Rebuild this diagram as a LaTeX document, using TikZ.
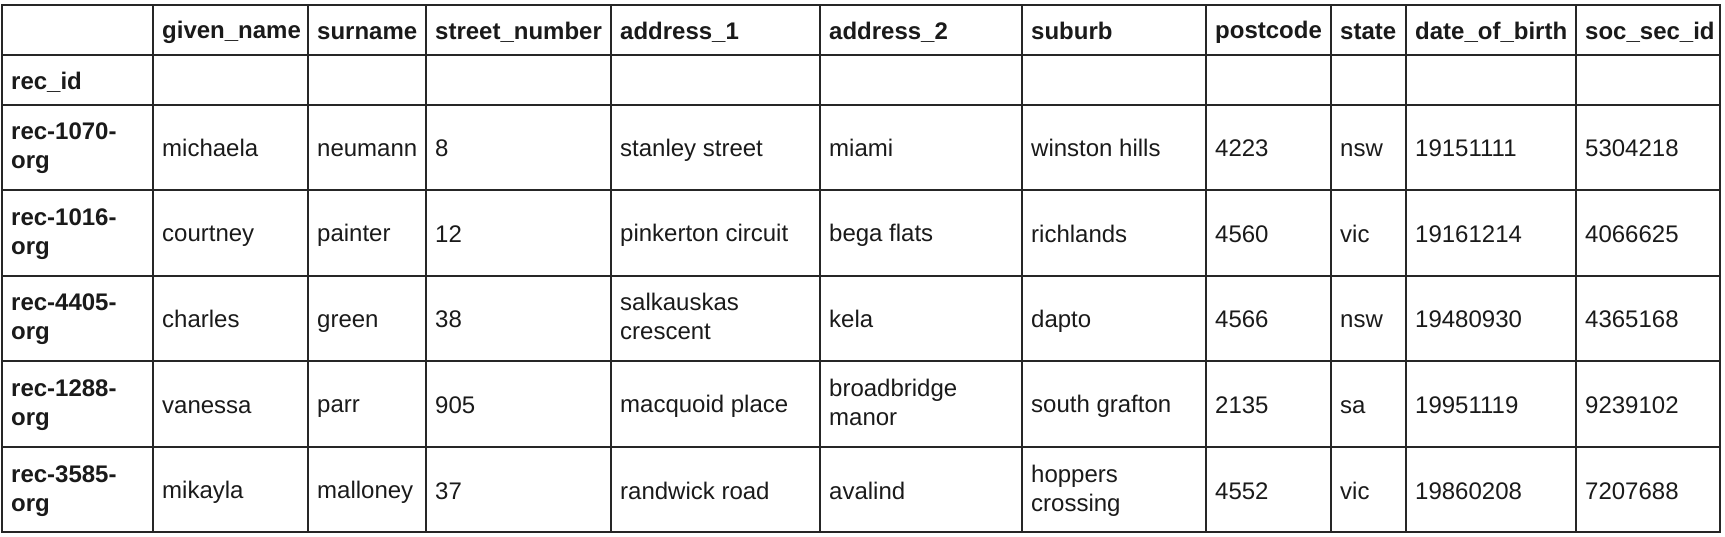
\documentclass[tikz,border=0pt]{standalone}
\usepackage{fontspec}
\setmainfont{Liberation Sans}
\newcommand\cstrut{\rule[-3pt]{0pt}{25pt}}
\newcommand\tstrut{\rule{0pt}{20pt}}
\newcommand\bstrut{\rule[-6pt]{0pt}{6pt}}
\definecolor{ink}{HTML}{1A1A1A}
\definecolor{rulecol}{HTML}{262626}
\def\colx{{2,153,308,426,611,820,1022,1206,1331,1406,1576,1720}}
\newcommand\datarow[3]{%
  \foreach \t [count=\i] in {#3} {%
    \pgfmathsetmacro\xx{\colx[\i]+9}%
    \node[cell] (c#1-\i) at (\xx,#2) {\t};}}
\begin{document}
\begin{tikzpicture}[x=1pt,y=-1pt,
  cell/.style={anchor=west,inner sep=0pt,align=left,text=ink,font=\fontsize{24}{29}\selectfont},
  headcell/.style={cell,font=\fontsize{24}{29}\selectfont\bfseries},
  gridline/.style={draw=rulecol,line width=2.2pt},
  frame/.style={draw=rulecol,line width=2.6pt}]
\useasboundingbox (0,0) rectangle (1725,537);
% grid
\foreach \x in {153,308,426,611,820,1022,1206,1331,1406,1576}
  \draw[gridline] (\x,5) -- (\x,532);
\foreach \y in {55,105,190,276,361,447}
  \draw[gridline] (2,\y) -- (1720,\y);
\draw[frame] (2,5) rectangle (1720,532);
% header
\foreach \t [count=\i] in {given\_name,surname,street\_number,address\_1,address\_2,suburb,postcode,state,date\_of\_birth,soc\_sec\_id} {%
  \pgfmathsetmacro\xx{\colx[\i]+9}%
  \node[headcell] (h\i) at (\xx,30) {\t\cstrut};}
% row labels
\node[headcell] (r0) at (11,80) {rec\_id\cstrut};
\node[headcell] (r1) at (11,147.5) {rec-1070-\tstrut\\org\bstrut};
\node[headcell] (r2) at (11,233) {rec-1016-\tstrut\\org\bstrut};
\node[headcell] (r3) at (11,318.5) {rec-4405-\tstrut\\org\bstrut};
\node[headcell] (r4) at (11,404) {rec-1288-\tstrut\\org\bstrut};
\node[headcell] (r5) at (11,489.5) {rec-3585-\tstrut\\org\bstrut};
% data
\datarow{1}{147.5}{michaela\cstrut,neumann\cstrut,8\cstrut,stanley street\cstrut,miami\cstrut,winston hills\cstrut,4223\cstrut,nsw\cstrut,19151111\cstrut,5304218\cstrut}
\datarow{2}{233}{courtney\cstrut,painter\cstrut,12\cstrut,pinkerton circuit\cstrut,bega flats\cstrut,richlands\cstrut,4560\cstrut,vic\cstrut,19161214\cstrut,4066625\cstrut}
\datarow{3}{318.5}{charles\cstrut,green\cstrut,38\cstrut,{salkauskas\tstrut\\crescent\bstrut},kela\cstrut,dapto\cstrut,4566\cstrut,nsw\cstrut,19480930\cstrut,4365168\cstrut}
\datarow{4}{404}{vanessa\cstrut,parr\cstrut,905\cstrut,macquoid place\cstrut,{broadbridge\tstrut\\manor\bstrut},south grafton\cstrut,2135\cstrut,sa\cstrut,19951119\cstrut,9239102\cstrut}
\datarow{5}{489.5}{mikayla\cstrut,malloney\cstrut,37\cstrut,randwick road\cstrut,avalind\cstrut,{hoppers\tstrut\\crossing\bstrut},4552\cstrut,vic\cstrut,19860208\cstrut,7207688\cstrut}
\end{tikzpicture}
\end{document}
